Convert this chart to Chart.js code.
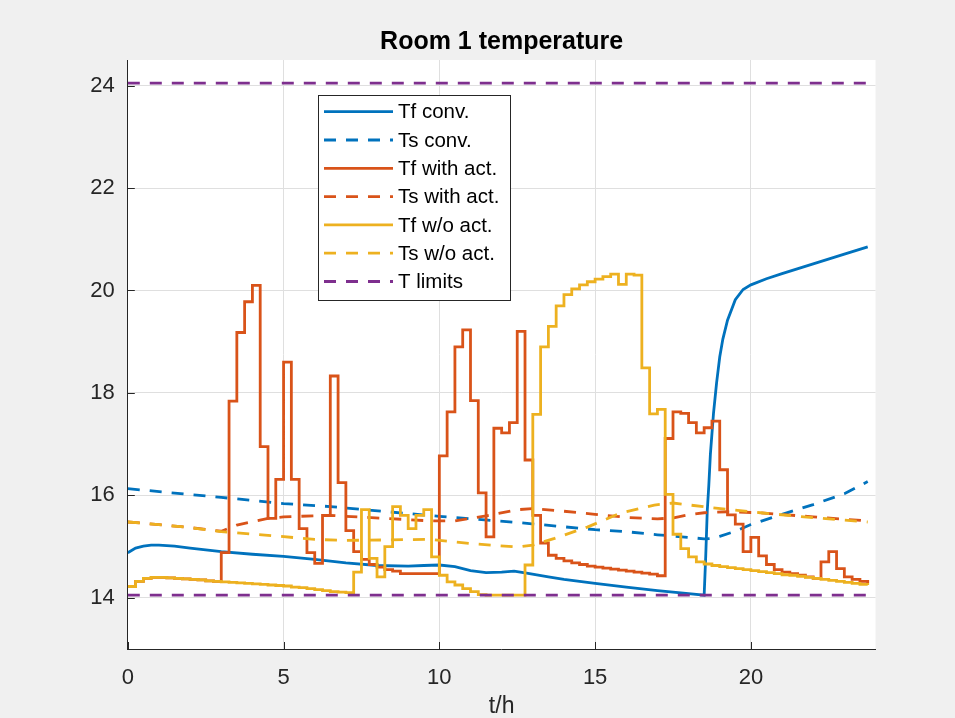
<!DOCTYPE html>
<html>
<head>
<meta charset="utf-8">
<title>Room 1 temperature</title>
<script src="https://cdn.jsdelivr.net/npm/chart.js@4.4.1/dist/chart.umd.min.js"></script>
<style>
  html, body { margin: 0; padding: 0; background: #f0f0f0; }
  #chart { display: block; }
</style>
</head>
<body>
<canvas id="chart" width="955" height="718"></canvas>
<script>
// -------- Data --------------------------------
// 15 min control steps, t in hours
const stepTimes = [
  0, 0.25, 0.5, 0.75, 1, 1.25, 1.5, 1.75, 2, 2.25, 2.5, 2.75,
  3, 3.25, 3.5, 3.75, 4, 4.25, 4.5, 4.75, 5, 5.25, 5.5, 5.75,
  6, 6.25, 6.5, 6.75, 7, 7.25, 7.5, 7.75, 8, 8.25, 8.5, 8.75,
  9, 9.25, 9.5, 9.75, 10, 10.25, 10.5, 10.75, 11, 11.25, 11.5, 11.75,
  12, 12.25, 12.5, 12.75, 13, 13.25, 13.5, 13.75, 14, 14.25, 14.5, 14.75,
  15, 15.25, 15.5, 15.75, 16, 16.25, 16.5, 16.75, 17, 17.25, 17.5, 17.75,
  18, 18.25, 18.5, 18.75, 19, 19.25, 19.5, 19.75, 20, 20.25, 20.5, 20.75,
  21, 21.25, 21.5, 21.75, 22, 22.25, 22.5, 22.75, 23, 23.25, 23.5, 23.75
];

const tfWithAct = [
  14.22, 14.32, 14.38, 14.40, 14.40, 14.39, 14.38, 14.37, 14.36, 14.35, 14.33, 14.32,
  14.88, 17.84, 19.18, 19.78, 20.10, 16.95, 15.55, 16.31, 18.60, 16.31, 15.35, 14.88,
  14.67, 15.61, 18.33, 16.25, 15.31, 14.90, 14.75, 14.65, 14.60, 14.55, 14.52, 14.47,
  14.47, 14.47, 14.47, 14.47, 16.77, 17.63, 18.90, 19.23, 17.85, 16.05, 15.19, 17.31,
  17.22, 17.42, 19.20, 16.69, 15.61, 15.07, 14.83, 14.77, 14.72, 14.68, 14.65, 14.62,
  14.60, 14.58, 14.56, 14.54, 14.52, 14.50, 14.48, 14.46, 14.43, 17.11, 17.63, 17.60,
  17.42, 17.22, 17.32, 17.45, 16.50, 15.62, 15.44, 14.90, 15.18, 14.82, 14.65, 14.55,
  14.50, 14.47, 14.44, 14.41, 14.38, 14.70, 14.90, 14.57, 14.41, 14.36, 14.32, 14.29
];

const tfNoAct = [
  14.22, 14.32, 14.38, 14.40, 14.40, 14.39, 14.38, 14.37, 14.36, 14.35, 14.33, 14.32,
  14.31, 14.30, 14.29, 14.28, 14.27, 14.26, 14.25, 14.24, 14.23, 14.21, 14.20, 14.18,
  14.16, 14.14, 14.12, 14.11, 14.10, 14.50, 15.72, 14.77, 14.41, 15.00, 15.78, 15.61,
  15.35, 15.61, 15.72, 14.80, 14.44, 14.31, 14.25, 14.18, 14.12, 14.06, 14.05, 14.05,
  14.05, 14.05, 14.05, 14.64, 17.58, 18.90, 19.30, 19.70, 19.92, 20.03, 20.11, 20.17,
  20.22, 20.27, 20.32, 20.12, 20.32, 20.30, 18.49, 17.59, 17.68, 16.02, 15.24, 14.96,
  14.80, 14.70, 14.66, 14.63, 14.61, 14.59, 14.57, 14.55, 14.53, 14.51, 14.49, 14.47,
  14.45, 14.44, 14.42, 14.40, 14.38, 14.36, 14.34, 14.32, 14.30, 14.28, 14.26, 14.25
];

const convTimes = [0, 0.25, 0.5, 0.75, 1, 1.5, 2, 3, 4, 5, 6, 7, 8, 9, 9.5, 10, 10.5, 11, 11.5, 12,
  12.4, 12.8, 13.5, 14, 15, 16, 17, 18, 18.5, 18.55, 18.6, 18.65, 18.7, 18.8, 18.9, 19, 19.1,
  19.25, 19.5, 19.75, 20, 20.5, 21, 22, 23, 23.75];
const tfConv = [14.88, 14.97, 15.01, 15.03, 15.03, 15.01, 14.97, 14.90, 14.85, 14.81, 14.75, 14.68,
  14.63, 14.62, 14.63, 14.64, 14.61, 14.53, 14.49, 14.50, 14.52, 14.48, 14.41, 14.36, 14.28, 14.21,
  14.14, 14.08, 14.05, 14.80, 15.70, 16.20, 16.80, 17.60, 18.20, 18.70, 19.05, 19.42, 19.82, 20.02,
  20.11, 20.23, 20.33, 20.52, 20.71, 20.85];

const tsConvTimes = [0, 3, 5, 6.5, 10, 12.5, 15, 16, 17, 18, 18.5, 18.75, 19, 19.5, 20, 21, 22, 23, 23.75];
const tsConv = [16.13, 15.96, 15.84, 15.78, 15.59, 15.47, 15.33, 15.29, 15.23, 15.18, 15.15, 15.16,
  15.20, 15.30, 15.43, 15.63, 15.82, 16.03, 16.27];

const tsActTimes = [0, 1, 2, 3, 3.5, 4.5, 5, 6.5, 7, 8.3, 9.75, 10.5, 11.5, 12.5, 13, 14, 15, 16, 17,
  17.5, 18, 18.5, 19.25, 20.25, 22, 23.75];
const tsWithAct = [15.48, 15.43, 15.37, 15.30, 15.42, 15.55, 15.58, 15.61, 15.59, 15.55, 15.50, 15.50,
  15.60, 15.72, 15.74, 15.69, 15.63, 15.57, 15.54, 15.56, 15.62, 15.66, 15.68, 15.66, 15.58, 15.50];

const tsNoActTimes = [0, 1, 2, 3, 4.5, 6, 7, 8.3, 9.7, 11, 12.5, 13, 13.7, 14.75, 15.8, 16.9, 17.5,
  18.6, 20.3, 21.9, 23.75];
const tsNoAct = [15.48, 15.43, 15.37, 15.29, 15.22, 15.14, 15.12, 15.13, 15.14, 15.06, 14.99, 15.03,
  15.16, 15.38, 15.65, 15.81, 15.85, 15.77, 15.66, 15.57, 15.48];

const limitTimes = [0, 23.75];
const limitLow = [14.05, 14.05];
const limitHigh = [24.05, 24.05];

const xTicks = [0, 5, 10, 15, 20];
const yTicks = [14, 16, 18, 20, 22, 24];

// -------- Style ----------
const FONT = '"Liberation Sans", Arial, Helvetica, sans-serif';
const AXIS = '#262626';
const BLUE = '#0072BD', ORANGE = '#D95319', YELLOW = '#EDB120', PURPLE = '#7E2F8E';
const DASH = [12, 10];
const LW = 2.8;

const pts = (xs, ys) => xs.map((x, i) => ({ x, y: ys[i] }));

function series(label, xs, ys, color, opts = {}) {
  return Object.assign({
    label, data: pts(xs, ys), borderColor: color, backgroundColor: color,
    borderWidth: LW, pointRadius: 0, fill: false, tension: 0
  }, opts);
}

const datasets = [
  series('Tf conv.', convTimes, tfConv, BLUE),
  series('Ts conv.', tsConvTimes, tsConv, BLUE, { borderDash: DASH }),
  series('Tf with act.', stepTimes, tfWithAct, ORANGE, { stepped: 'before' }),
  series('Ts with act.', tsActTimes, tsWithAct, ORANGE, { borderDash: DASH }),
  series('Tf w/o act.', stepTimes, tfNoAct, YELLOW, { stepped: 'before' }),
  series('Ts w/o act.', tsNoActTimes, tsNoAct, YELLOW, { borderDash: DASH }),
  series('T limits', limitTimes, limitLow, PURPLE, { borderDash: DASH }),
  series('T limits', limitTimes, limitHigh, PURPLE, { borderDash: DASH, legendSkip: true })
];
// matlab draws later lines on top
datasets.forEach((d, i) => d.order = datasets.length - i);

// -------- Plugin: figure background, inward ticks, legend, title ----------
const matlabLook = {
  id: 'matlabLook',
  beforeDraw(chart) {
    const { ctx, chartArea: a } = chart;
    ctx.save();
    ctx.fillStyle = '#f0f0f0';
    ctx.fillRect(0, 0, chart.width, chart.height);
    ctx.fillStyle = '#ffffff';
    ctx.fillRect(a.left, a.top, a.right - a.left, a.bottom - a.top);
    ctx.restore();
  },
  beforeDatasetsDraw(chart) {
    const { ctx, chartArea: a, scales } = chart;
    ctx.save();
    ctx.strokeStyle = AXIS;
    ctx.lineWidth = 1;
    ctx.beginPath();
    xTicks.forEach(v => {
      const px = Math.round(scales.x.getPixelForValue(v)) + 0.5;
      ctx.moveTo(px, a.bottom); ctx.lineTo(px, a.bottom - 7);
    });
    yTicks.forEach(v => {
      const py = Math.round(scales.y.getPixelForValue(v)) + 0.5;
      ctx.moveTo(a.left, py); ctx.lineTo(a.left + 7, py);
    });
    ctx.stroke();
    ctx.restore();
  },
  afterDatasetsDraw(chart) {
    const { ctx, chartArea: a } = chart;
    ctx.save();
    // legend box
    const box = { x: 318.5, y: 95.5, w: 192, h: 205 };
    ctx.fillStyle = '#ffffff';
    ctx.fillRect(box.x, box.y, box.w, box.h);
    ctx.strokeStyle = AXIS;
    ctx.lineWidth = 1;
    ctx.setLineDash([]);
    ctx.strokeRect(box.x, box.y, box.w, box.h);
    ctx.font = '20.5px ' + FONT;
    ctx.textBaseline = 'middle';
    ctx.textAlign = 'left';
    let row = 0;
    chart.data.datasets.forEach(ds => {
      if (ds.legendSkip) return;
      const y = 111.7 + 28.3 * row;
      ctx.strokeStyle = ds.borderColor;
      ctx.lineWidth = LW;
      ctx.setLineDash(ds.borderDash || []);
      ctx.beginPath();
      ctx.moveTo(324, y); ctx.lineTo(393, y);
      ctx.stroke();
      ctx.fillStyle = '#000000';
      ctx.fillText(ds.label, 398, y + 1);
      row++;
    });
    // title over the axes
    ctx.setLineDash([]);
    ctx.font = 'bold 25px ' + FONT;
    ctx.textAlign = 'center';
    ctx.fillStyle = '#000000';
    ctx.fillText('Room 1 temperature', (a.left + a.right) / 2, 42);
    ctx.restore();
  }
};

new Chart(document.getElementById('chart'), {
  type: 'line',
  data: { datasets },
  options: {
    responsive: false,
    animation: false,
    devicePixelRatio: 1,
    layout: { padding: { left: 0, right: 79.5, top: 60, bottom: 0 } },
    plugins: { legend: { display: false }, tooltip: { enabled: false }, title: { display: false } },
    scales: {
      x: {
        type: 'linear', min: 0, max: 24,
        afterBuildTicks: s => { s.ticks = xTicks.map(v => ({ value: v })); },
        afterFit: s => { s.height = 69; },
        grid: { color: '#dfdfdf', lineWidth: 1, drawTicks: false },
        border: { display: true, color: AXIS, width: 1 },
        ticks: { color: AXIS, font: { family: FONT, size: 22 }, padding: 16, maxRotation: 0 },
        title: { display: true, text: 't/h', color: AXIS, font: { family: FONT, size: 23, lineHeight: 1 }, padding: 0 }
      },
      y: {
        type: 'linear', min: 13, max: 24.5,
        afterBuildTicks: s => { s.ticks = yTicks.map(v => ({ value: v })); },
        afterFit: s => { s.width = 127.8; },
        grid: { color: '#dfdfdf', lineWidth: 1, drawTicks: false },
        border: { display: true, color: AXIS, width: 1 },
        ticks: { color: AXIS, font: { family: FONT, size: 22 }, padding: 13 }
      }
    }
  },
  plugins: [matlabLook]
});
</script>
</body>
</html>
